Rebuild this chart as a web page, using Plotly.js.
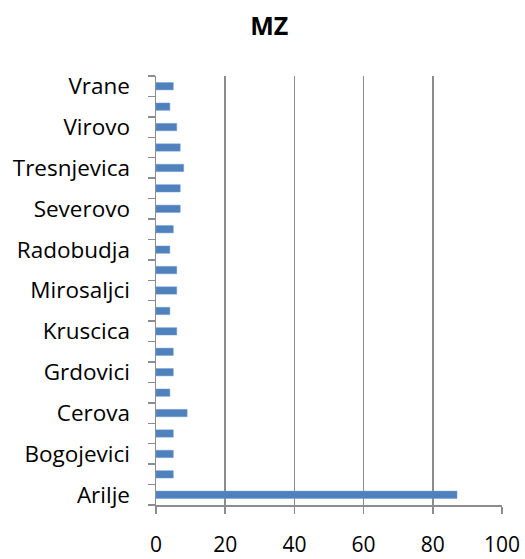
<!DOCTYPE html>
<html>
<head>
<meta charset="utf-8">
<script src="https://cdn.plot.ly/plotly-3.0.1.min.js"></script>
<style>html,body{margin:0;padding:0;background:#fff;}#chart{width:525px;height:559px;}</style>
</head>
<body>
<div id="chart"></div>
<script>
const categories = ["Arilje","Bjelusa","Bogojevici","Brekovo","Cerova","Dobrace","Grdovici","Grivska","Kruscica","Latvica","Mirosaljci","Pogled","Radobudja","Ravni","Severovo","Stupcevici","Tresnjevica","Vigoste","Virovo","Visoka","Vrane"];
const values = [87,5,5,5,9,4,5,5,6,4,6,6,4,5,7,7,8,7,6,4,5];
const tickLabels = categories.map((c,i)=> i%2===0 ? c : "");
const xTicks = [0,20,40,60,80,100];

const font = "'Open Sans', sans-serif";
const data = [{
  type: "bar",
  orientation: "h",
  y: categories,
  x: values,
  marker: {color: "#4F81BD", line: {color: "#6f9ad0", width: 0.5}},
  hoverinfo: "x+y"
}];
const layout = {
  width: 525, height: 559,
  margin: {l:156, r:23, t:76, b:54},
  paper_bgcolor: "#fff", plot_bgcolor: "#fff",
  showlegend: false,
  bargap: 0.64,
  title: {text: "<b>MZ</b>", x: 0.513, xanchor: "center", y: 0.9535, yanchor: "middle",
          font: {family: font, size: 25, color: "#000"}},
  xaxis: {
    range: [0, 100], tickvals: xTicks, ticktext: xTicks.map(String),
    showgrid: true, gridcolor: "#8c8c8c", gridwidth: 1.5,
    showline: true, linecolor: "#8c8c8c", linewidth: 1.5,
    ticks: "outside", ticklen: 7, tickcolor: "#8c8c8c", tickwidth: 1.5,
    ticklabelstandoff: 13,
    tickfont: {family: font, size: 21, color: "#000"},
    zeroline: false, fixedrange: true
  },
  yaxis: {
    type: "category", categoryorder: "array", categoryarray: categories,
    tickvals: categories, ticktext: tickLabels, tickson: "boundaries",
    showgrid: false,
    showline: true, linecolor: "#8c8c8c", linewidth: 1.5,
    ticks: "outside", ticklen: 7, tickcolor: "#8c8c8c", tickwidth: 1.5,
    tickfont: {family: font, size: 22.5, color: "#000"},
    ticklabelstandoff: 20,
    fixedrange: true
  }
};
Plotly.newPlot("chart", data, layout, {displayModeBar: false, staticPlot: true});
</script>
</body>
</html>
